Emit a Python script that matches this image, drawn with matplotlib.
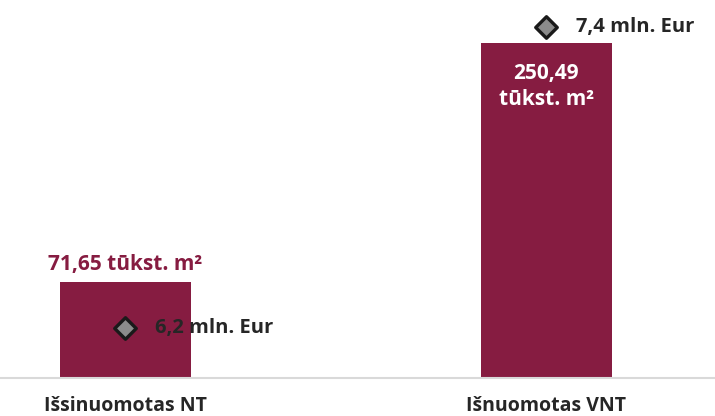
import matplotlib
matplotlib.use('Agg')
import matplotlib.pyplot as plt

# Data
categories = ['Išsinuomotas NT', 'Išnuomotas VNT']
area_values = [71.65, 250.49]          # tūkst. m2
money_values = [6.2, 7.4]              # mln. Eur
area_labels = ['71,65 tūkst. m²', '250,49\ntūkst. m²']
money_labels = ['6,2 mln. Eur', '7,4 mln. Eur']

bar_color = '#861c41'
text_dark = '#262626'

plt.rcParams['font.family'] = ['Open Sans', 'DejaVu Sans']

fig = plt.figure(figsize=(7.15, 4.16), dpi=100)
ax = fig.add_axes([0, 38 / 416, 1, 376 / 416])
x = list(range(len(categories)))
ax.bar(x, area_values, width=0.311, color=bar_color, zorder=2)
ax.set_xlim(-0.297, 1.401)
ax.set_ylim(0, 281)

# second scale for the money markers
ax2 = ax.twinx()
ax2.set_ylim(6.0, 7.5)
ax2.scatter(x, money_values, marker='D', s=120, color='#8c8c8c',
            edgecolor='#1a1a1a', linewidth=2.4, zorder=5)

for a in (ax, ax2):
    for s in a.spines.values():
        s.set_visible(False)
    a.set_yticks([])
ax.spines['bottom'].set_visible(True)
ax.spines['bottom'].set_color('#d9d9d9')
ax.spines['bottom'].set_linewidth(1.5)
ax.set_xticks(x)
ax.set_xticklabels(categories, fontsize=14, fontweight='bold', color=text_dark)
ax.tick_params(axis='x', length=0, pad=13)
ax2.tick_params(axis='x', length=0)

# area labels
ax.text(x[0], area_values[0] + 9, area_labels[0], ha='center', va='baseline',
        fontsize=15, fontweight='bold', color=bar_color)
ax.text(x[1], area_values[1] - 15, area_labels[1], ha='center', va='top',
        fontsize=15, fontweight='bold', color='white', linespacing=1.35)

# money labels
for xi, v, lab in zip(x, money_values, money_labels):
    ax2.text(xi + 0.072, v, lab, ha='left', va='center',
             fontsize=14.5, fontweight='bold', color=text_dark, zorder=6)

fig.savefig('out.png', dpi=100)
